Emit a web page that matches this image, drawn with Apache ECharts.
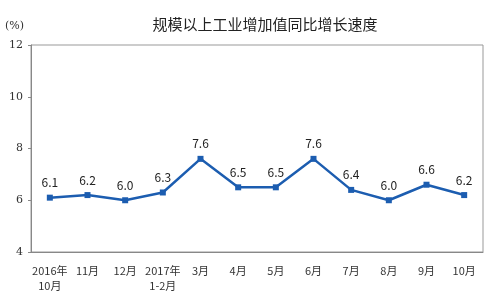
<!DOCTYPE html>
<html><head><meta charset="utf-8">
<script src="https://cdn.jsdelivr.net/npm/echarts@6/dist/echarts.min.js"></script>
<style>html,body{margin:0;padding:0;background:#fff}#c{width:500px;height:299px}</style>
</head><body><div id="c"></div>
<script>
const categories = ['2016年\n10月','11月','12月','2017年\n1-2月','3月','4月','5月','6月','7月','8月','9月','10月'];
const growth = [6.1, 6.2, 6.0, 6.3, 7.6, 6.5, 6.5, 7.6, 6.4, 6.0, 6.6, 6.2];
const yTicks = [4, 6, 8, 10, 12];
const font = '"Noto Sans CJK SC", sans-serif';
const chart = echarts.init(document.getElementById('c'));
chart.setOption({
  animation: false,
  title: {
    text: '规模以上工业增加值同比增长速度',
    left: 260, top: 12, textAlign: 'center',
    textStyle: {fontFamily: font, fontSize: 15, fontWeight: 'normal', color: '#222'}
  },
  graphic: [{type: 'text', left: 5, top: 21, style: {text: '(%)', font: '11px "DejaVu Serif", serif', fill: '#333'}}],
  grid: {left: 31, right: 17, top: 45, bottom: 47, show: true, borderColor: '#999', borderWidth: 1},
  xAxis: {
    type: 'category', data: categories, boundaryGap: true,
    axisLine: {lineStyle: {color: '#888'}},
    axisTick: {inside: true, length: 4, lineStyle: {color: '#888'}},
    axisLabel: {fontFamily: font, fontSize: 11, color: '#333', interval: 0, margin: 11, lineHeight: 15}
  },
  yAxis: {
    type: 'value', min: yTicks[0], max: yTicks[yTicks.length - 1], interval: 2,
    splitLine: {show: false},
    axisLine: {show: true, lineStyle: {color: '#888'}},
    axisTick: {show: true, length: 3, lineStyle: {color: '#888'}},
    axisLabel: {fontFamily: '"DejaVu Serif", serif', fontSize: 11, color: '#333', margin: 8}
  },
  series: [{
    type: 'line', data: growth,
    symbol: 'rect', symbolSize: 6,
    lineStyle: {color: '#1c5db0', width: 2.5},
    itemStyle: {color: '#1c5db0'},
    label: {show: true, position: 'top', distance: 6, fontFamily: font, fontSize: 12, color: '#222',
      formatter: p => p.value.toFixed(1)}
  }]
});
</script></body></html>
